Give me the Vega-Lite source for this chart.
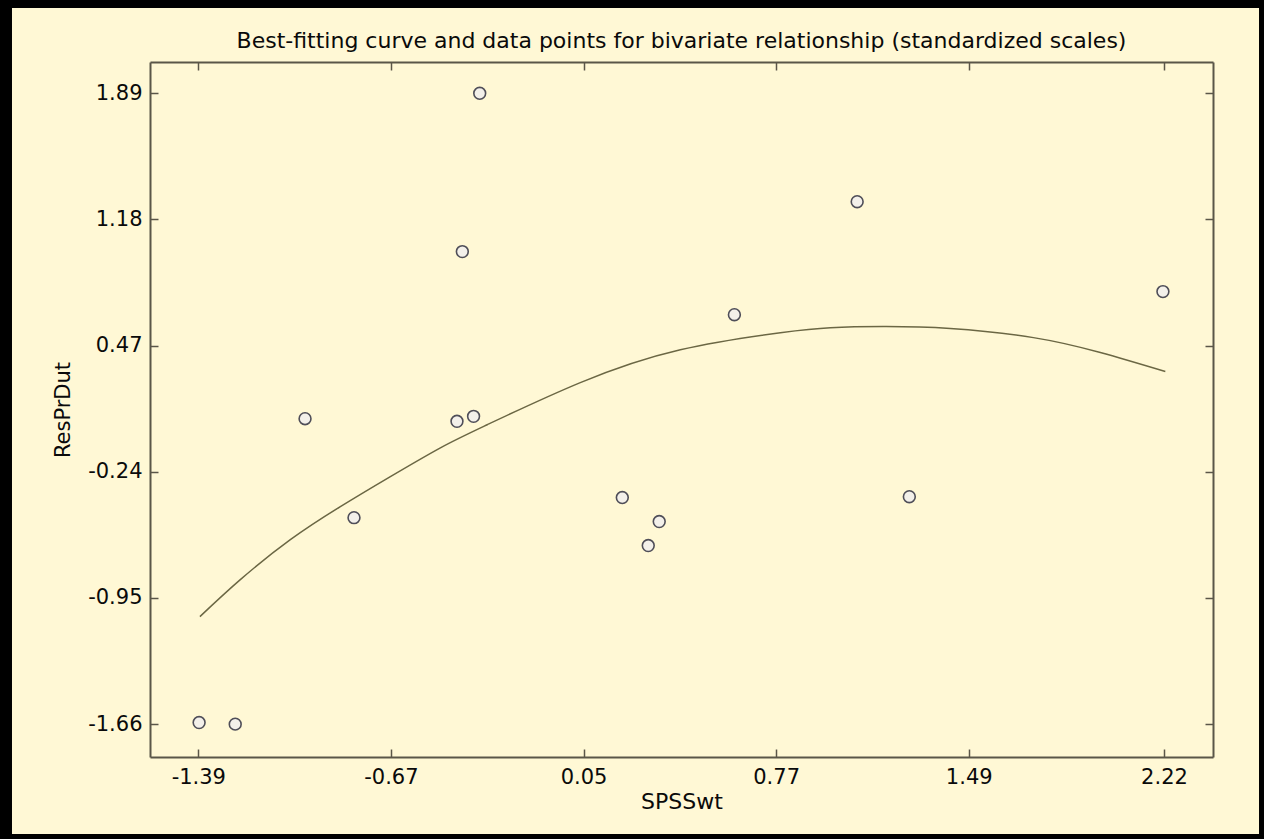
{
  "$schema": "https://vega.github.io/schema/vega-lite/v6.json",
  "width": 1063,
  "height": 695,
  "autosize": {"type": "none"},
  "padding": {"left": 150, "top": 62, "right": 51, "bottom": 82},
  "background": "#000000",
  "title": {
    "text": "Best-fitting curve and data points for bivariate relationship (standardized scales)",
    "font": "DejaVu Sans",
    "fontSize": 22,
    "fontWeight": "normal",
    "color": "#0a0a0a",
    "anchor": "middle",
    "frame": "group",
    "offset": -62,
    "baseline": "alphabetic",
    "zindex": 1
  },
  "config": {
    "locale": {"number": {"decimal": ".", "thousands": ",", "grouping": [3], "currency": ["$", ""], "minus": "-"}},
    "view": {"stroke": null},
    "axis": {
      "grid": false,
      "domainColor": "#5a5648",
      "domainWidth": 2,
      "tickColor": "#5a5648",
      "tickWidth": 1.5,
      "tickSize": -8,
      "labelFont": "DejaVu Sans",
      "labelFontSize": 21,
      "labelColor": "#0a0a0a",
      "labelFlush": false,
      "labelOverlap": false,
      "titleFont": "DejaVu Sans",
      "titleFontSize": 21,
      "titleFontWeight": "normal",
      "titleColor": "#0a0a0a"
    }
  },
  "datasets": {
    "frame": [{"x1": -2.0865, "x2": 2.5752, "y1": -2.2783, "y2": 2.37}],
    "fit": [
      {"SPSSwt": -1.384, "ResPrDut": -1.055},
      {"SPSSwt": -1.233, "ResPrDut": -0.847},
      {"SPSSwt": -1.046, "ResPrDut": -0.622},
      {"SPSSwt": -0.859, "ResPrDut": -0.436},
      {"SPSSwt": -0.672, "ResPrDut": -0.267},
      {"SPSSwt": -0.485, "ResPrDut": -0.105},
      {"SPSSwt": -0.31, "ResPrDut": 0.025},
      {"SPSSwt": 0.038, "ResPrDut": 0.262},
      {"SPSSwt": 0.412, "ResPrDut": 0.447},
      {"SPSSwt": 0.786, "ResPrDut": 0.543},
      {"SPSSwt": 0.973, "ResPrDut": 0.571},
      {"SPSSwt": 1.171, "ResPrDut": 0.577},
      {"SPSSwt": 1.421, "ResPrDut": 0.566},
      {"SPSSwt": 1.732, "ResPrDut": 0.515},
      {"SPSSwt": 1.982, "ResPrDut": 0.431},
      {"SPSSwt": 2.225, "ResPrDut": 0.324}
    ],
    "points": [
      {"SPSSwt": -1.387, "ResPrDut": -1.651},
      {"SPSSwt": -1.252, "ResPrDut": -1.66},
      {"SPSSwt": -0.991, "ResPrDut": 0.059},
      {"SPSSwt": -0.808, "ResPrDut": -0.498},
      {"SPSSwt": -0.423, "ResPrDut": 0.044},
      {"SPSSwt": -0.361, "ResPrDut": 0.072},
      {"SPSSwt": -0.403, "ResPrDut": 0.999},
      {"SPSSwt": -0.338, "ResPrDut": 1.89},
      {"SPSSwt": 0.195, "ResPrDut": -0.385},
      {"SPSSwt": 0.333, "ResPrDut": -0.52},
      {"SPSSwt": 0.292, "ResPrDut": -0.655},
      {"SPSSwt": 0.614, "ResPrDut": 0.644},
      {"SPSSwt": 1.073, "ResPrDut": 1.28},
      {"SPSSwt": 1.268, "ResPrDut": -0.38},
      {"SPSSwt": 2.216, "ResPrDut": 0.774}
    ]
  },
  "resolve": {"axis": {"x": "independent", "y": "independent"}},
  "layer": [
    {
      "data": {"name": "frame"},
      "mark": {"type": "rect", "fill": "#FFF8D5", "clip": false},
      "encoding": {
        "x": {
          "field": "x1", "type": "quantitative",
          "scale": {"domain": [-1.5706, 2.4032], "nice": false, "zero": false},
          "axis": {"orient": "bottom", "zindex": 1, "values": [-1.39, -0.67, 0.05, 0.77, 1.49, 2.22], "format": ".2f", "labelPadding": 17, "title": "SPSSwt", "titleFontSize": 22, "titlePadding": 4}
        },
        "x2": {"field": "x2"},
        "y": {
          "field": "y1", "type": "quantitative",
          "scale": {"domain": [-1.845, 2.0661], "nice": false, "zero": false},
          "axis": {"orient": "left", "zindex": 1, "values": [-1.66, -0.95, -0.24, 0.47, 1.18, 1.89], "format": ".2f", "labelPadding": 16, "title": "ResPrDut", "titlePadding": 14}
        },
        "y2": {"field": "y2"}
      }
    },
    {
      "data": {"name": "fit"},
      "mark": {"type": "line", "color": "#6b6744", "strokeWidth": 1.5, "interpolate": "natural"},
      "encoding": {
        "x": {"field": "SPSSwt", "type": "quantitative", "axis": {"orient": "top", "zindex": 1, "values": [-1.39, -0.67, 0.05, 0.77, 1.49, 2.22], "labels": false, "title": null}},
        "y": {"field": "ResPrDut", "type": "quantitative", "axis": {"orient": "right", "zindex": 1, "values": [-1.66, -0.95, -0.24, 0.47, 1.18, 1.89], "labels": false, "title": null}}
      }
    },
    {
      "data": {"name": "points"},
      "mark": {"type": "point", "shape": "circle", "filled": true, "fill": "#F3F0EA", "stroke": "#4f4e58", "strokeWidth": 1.6, "size": 140, "opacity": 1},
      "encoding": {
        "x": {"field": "SPSSwt", "type": "quantitative", "axis": null},
        "y": {"field": "ResPrDut", "type": "quantitative", "axis": null}
      }
    }
  ]
}
